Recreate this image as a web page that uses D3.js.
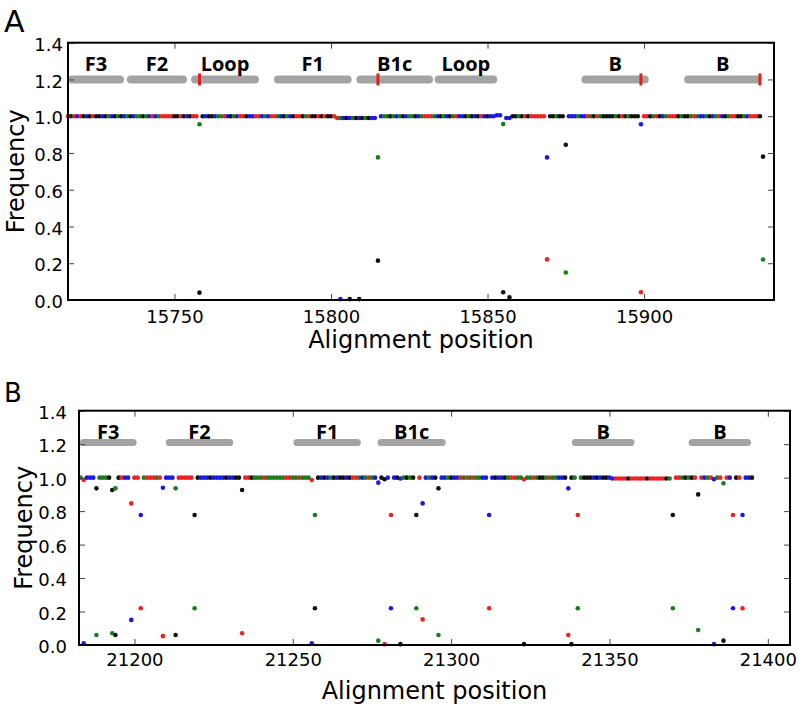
<!DOCTYPE html>
<html>
<head>
<meta charset="utf-8">
<script src="https://cdn.jsdelivr.net/npm/d3@7"></script>
<style>
  body { margin: 0; background: #fff; }
  svg { display: block; }
  text { font-family: "DejaVu Sans", sans-serif; fill: #000; }
</style>
</head>
<body>
<svg width="800" height="710"></svg>
<script>
// ---- data ----
var yTicks = [0, 0.2, 0.4, 0.6, 0.8, 1.0, 1.2, 1.4];
var xTicksA = [15750, 15800, 15850, 15900];
var xTicksB = [21200, 21250, 21300, 21350, 21400];

// base colours: r = red, g = green, b = blue, k = black
var colorOf = { r: "#ee2222", g: "#1b7d1b", b: "#1a1ae0", k: "#111111" };

// dominant base (frequency ~1.0) per alignment position, as runs [startPos, bases]
var seqA = [
  [15716, "rkrbrkbkrkkbkgbkgkbgkbggkgbrbgrrrrkkrkbkrr"],
  [15759, "kbkkbggrbkgbrrkbbrrbgbrrgbkgbkrrkgrkkrkrkkrrgbkbgkbkgkbb"],
  [15816, "bggkgbgkbggkbgrrrgbkgbkgrbbkgkbkrbkbbbb"],
  [15856, "bbkkgkrkrrrrr"],
  [15870, "kkgkk"],
  [15876, "bbbgbbrgkrgkkkkgkrkgkkk"],
  [15900, "rrkgrkbgrrrkgkkgrgbbgkbgrbkgrrkkgbrrrk"]
];
// stretches where the dominant base sits a bit off 1.0: [from, to, value]
var dipsA = [
  [15802, 15814, 0.99],
  [15853, 15854, 1.005],
  [15856, 15857, 0.99]
];
// mixed positions: [pos, frequency, base]
var mixedA = [
  [15758, 0.956, "g"], [15758, 0.04, "k"],
  [15803, 0.005, "b"], [15806, 0.005, "k"], [15809, 0.005, "k"],
  [15815, 0.776, "g"], [15815, 0.214, "k"],
  [15855, 0.957, "g"], [15855, 0.042, "k"], [15857, 0.015, "k"],
  [15869, 0.776, "b"], [15869, 0.221, "r"],
  [15875, 0.845, "k"], [15875, 0.15, "g"],
  [15899, 0.956, "b"], [15899, 0.042, "r"],
  [15938, 0.78, "k"], [15938, 0.22, "g"]
];
// primer regions: [start, end, label]
var regionsA = [
  [15716, 15733.9, "F3"], [15734.8, 15754, "F2"], [15755.3, 15777, "Loop"],
  [15781.8, 15806.6, "F1"], [15808.1, 15832.6, "B1c"], [15833.1, 15853.1, "Loop"],
  [15880, 15901.5, "B"], [15912.8, 15937.5, "B"]
];
var markersA = [15758, 15815, 15899, 15937];

var seqB = [
  [21183, "grbbb"], [21189, "gggk"], [21195, "krbb"], [21200, "rr"],
  [21203, "grrrgr"], [21210, "bbb"], [21214, "rrrrr"], [21220, "kbbbkbbbbkbbkk"],
  [21235, "rrkgggrg"], [21243, "gggggrrggrgggr"], [21258, "kbkbgkbkkbkrrgbgrgbbkkb"],
  [21282, "bkbgkgk"], [21290, "r"], [21292, "bgbk"], [21297, "bbgkbbrgrgrggbb"],
  [21313, "bkbbkgrrggr"], [21324, "ggrgkkgrggbbk"], [21338, "kg"],
  [21341, "gkkkbkbkkbbrrrrkrrrrrkrrrrrkg"], [21371, "rrgkgkr"],
  [21379, "rbgrbgrgrb"], [21390, "kr"], [21393, "bbk"]
];
var dipsB = [
  [21184, 21184, 0.986], [21256, 21256, 0.986], [21277, 21277, 0.97],
  [21279, 21279, 0.99], [21284, 21284, 0.995], [21323, 21323, 0.99],
  [21351, 21369, 0.995], [21383, 21383, 0.99], [21386, 21386, 0.966]
];
var mixedB = [
  [21184, 0.01, "b"], [21188, 0.936, "k"], [21188, 0.06, "g"],
  [21193, 0.926, "k"], [21193, 0.07, "g"], [21194, 0.936, "g"], [21194, 0.06, "k"],
  [21199, 0.846, "r"], [21199, 0.15, "b"], [21202, 0.777, "b"], [21202, 0.22, "r"],
  [21209, 0.94, "b"], [21209, 0.053, "r"], [21213, 0.936, "g"], [21213, 0.06, "k"],
  [21219, 0.777, "k"], [21219, 0.22, "g"], [21234, 0.926, "k"], [21234, 0.07, "r"],
  [21256, 0.01, "b"], [21257, 0.777, "g"], [21257, 0.22, "k"],
  [21277, 0.026, "g"], [21279, 0.005, "r"], [21281, 0.777, "r"], [21281, 0.22, "b"],
  [21284, 0.005, "k"], [21289, 0.777, "k"], [21289, 0.22, "g"],
  [21291, 0.846, "b"], [21291, 0.153, "r"], [21296, 0.936, "k"], [21296, 0.06, "g"],
  [21312, 0.777, "b"], [21312, 0.22, "r"], [21323, 0.005, "k"],
  [21337, 0.936, "b"], [21337, 0.06, "r"], [21338, 0.005, "k"],
  [21340, 0.777, "r"], [21340, 0.22, "g"], [21370, 0.777, "k"], [21370, 0.22, "g"],
  [21378, 0.90, "k"], [21378, 0.09, "g"], [21383, 0.005, "b"], [21386, 0.026, "k"],
  [21389, 0.777, "r"], [21389, 0.22, "b"], [21392, 0.777, "b"], [21392, 0.22, "r"]
];
var regionsB = [
  [21182.8, 21200.7, "F3"], [21209.9, 21231.2, "F2"], [21250.2, 21271.5, "F1"],
  [21276.8, 21298.3, "B1c"], [21338.1, 21357.9, "B"], [21375, 21394.7, "B"]
];
var markersB = [];

var svg = d3.select("svg");

function drawPanel(p) {
  var w = p.width, h = p.height;
  var x = d3.scaleLinear().domain(p.xDomain).range([0, w]);
  var y = d3.scaleLinear().domain([0, 1.4]).range([h, 0]);
  var g = svg.append("g").attr("transform", "translate(" + p.left + "," + p.top + ")");

  // turn the runs into points
  var points = [];
  p.seq.forEach(function(run) {
    run[1].split("").forEach(function(c, i) {
      var pos = run[0] + i, v = 1.0;
      p.dips.forEach(function(d) { if (pos >= d[0] && pos <= d[1]) v = d[2]; });
      points.push({ pos: pos, v: v, c: c });
    });
  });
  p.mixed.forEach(function(m) { points.push({ pos: m[0], v: m[1], c: m[2] }); });

  // primer region bars
  g.selectAll("rect.region").data(p.regions).enter().append("rect")
    .attr("class", "region")
    .attr("x", function(d) { return x(d[0]); })
    .attr("width", function(d) { return x(d[1]) - x(d[0]); })
    .attr("y", y(p.barY) - p.barH / 2)
    .attr("height", p.barH)
    .attr("rx", p.barH / 2)
    .attr("fill", "#a3a3a3");

  g.selectAll("text.region").data(p.regions).enter().append("text")
    .attr("class", "region")
    .attr("x", function(d) { return x((d[0] + d[1]) / 2); })
    .attr("y", y(p.barY) - p.labelGap)
    .attr("text-anchor", "middle")
    .style("font-family", "'Open Sans', sans-serif")
    .style("font-weight", "bold")
    .style("font-size", "20px")
    .text(function(d) { return d[2]; });

  g.selectAll("rect.marker").data(p.markers).enter().append("rect")
    .attr("class", "marker")
    .attr("x", function(d) { return x(d) - 1.5; })
    .attr("width", 3)
    .attr("y", y(p.barY) - 6)
    .attr("height", 12)
    .attr("fill", "#e41e1e");

  g.selectAll("circle").data(points).enter().append("circle")
    .attr("cx", function(d) { return x(d.pos); })
    .attr("cy", function(d) { return y(d.v); })
    .attr("r", 2.3)
    .attr("fill", function(d) { return colorOf[d.c]; });

  // axes, ticks pointing inwards on all four sides
  var ax = g.append("g").attr("transform", "translate(0," + h + ")")
    .call(d3.axisBottom(x).tickValues(p.xTicks).tickSize(-6).tickPadding(p.xPad).tickFormat(d3.format("d")));
  g.append("g")
    .call(d3.axisTop(x).tickValues(p.xTicks).tickSize(-6).tickFormat(""));
  var ay = g.append("g")
    .call(d3.axisLeft(y).tickValues(yTicks).tickSize(-6).tickPadding(p.yPad).tickFormat(d3.format(".1f")));
  g.append("g").attr("transform", "translate(" + w + ",0)")
    .call(d3.axisRight(y).tickValues(yTicks).tickSize(-6).tickFormat(""));
  g.selectAll(".domain").remove();
  g.selectAll(".tick line").attr("stroke", "#444");
  ax.selectAll("text").style("font-size", "18px").style("font-family", "'DejaVu Sans', sans-serif");
  ay.selectAll("text").style("font-size", "18px").style("font-family", "'DejaVu Sans', sans-serif")
    .attr("dy", "0.42em");

  g.append("rect").attr("width", w).attr("height", h)
    .attr("fill", "none").attr("stroke", "#000").attr("stroke-width", 2);

  svg.append("text")
    .attr("x", p.left + w / 2).attr("y", p.xLabelY)
    .attr("text-anchor", "middle")
    .style("font-size", "24px")
    .text("Alignment position");
  svg.append("text")
    .attr("transform", "translate(" + p.yLabelX + "," + (p.top + h / 2) + ") rotate(-90)")
    .attr("text-anchor", "middle")
    .style("font-size", "24px")
    .text("Frequency");
  svg.append("text")
    .attr("x", 4).attr("y", p.letterY)
    .style("font-size", p.letterSize + "px")
    .text(p.letter);
}

drawPanel({
  letter: "A", letterY: 32, letterSize: 30,
  left: 68, top: 42.7, width: 706, height: 257.3,
  xDomain: [15716, 15941.5], xTicks: xTicksA, xPad: 10, yPad: 5,
  xLabelY: 348, yLabelX: 24,
  seq: seqA, dips: dipsA, mixed: mixedA,
  regions: regionsA, markers: markersA,
  barY: 1.2, barH: 8, labelGap: 8
});

drawPanel({
  letter: "B", letterY: 402, letterSize: 26,
  left: 79, top: 410.7, width: 711, height: 234.3,
  xDomain: [21182.5, 21407], xTicks: xTicksB, xPad: 8, yPad: 12,
  xLabelY: 699, yLabelX: 32,
  seq: seqB, dips: dipsB, mixed: mixedB,
  regions: regionsB, markers: markersB,
  barY: 1.21, barH: 7, labelGap: 3.5
});
</script>
</body>
</html>
